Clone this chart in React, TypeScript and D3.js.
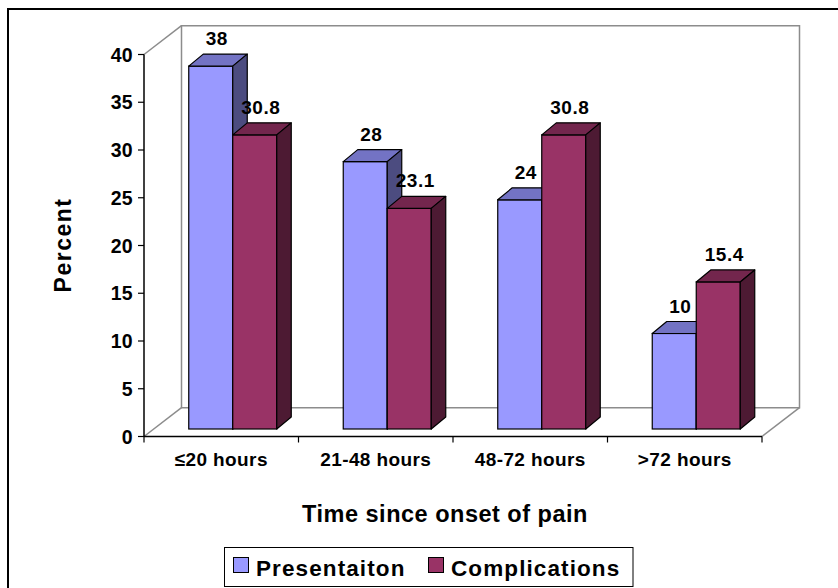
import React from "react";
import * as d3 from "d3";

// Share of patients by time since onset of pain
const categories = ["≤20 hours", "21-48 hours", "48-72 hours", ">72 hours"];
const presentation = [38, 28, 24, 10];
const complications = [30.8, 23.1, 30.8, 15.4];
const seriesNames = ["Presentaiton", "Complications"];
const yTicks = [0, 5, 10, 15, 20, 25, 30, 35, 40];

const W = 838;
const H = 588;

// front plane of the 3D box
const plotLeft = 144;
const plotRight = 762;
const yBottom = 436.5;
const yTop = 54.5;
// depth of the box (back wall offset)
const wallDx = 37.5;
const wallDy = 28.8;
// bars sit a bit behind the front plane
const barShiftX = 11.5;
const barShiftY = 7.5;
const barW = 44;
const barDx = 14.5;
const barDy = 12;

const palette = [
  { front: "#9999FF", top: "#7373C4", side: "#4C4C80" },
  { front: "#993366", top: "#73264D", side: "#4D1A33" },
];

const font = "'Liberation Sans', Arial, sans-serif";
const wallColor = "#8c8c8c";

export default function App() {
  const x = d3.scaleBand<string>().domain(categories).range([plotLeft, plotRight]).padding(0);
  const y = d3.scaleLinear().domain([0, 40]).range([yBottom, yTop]);
  const bw = x.bandwidth();
  const series = [presentation, complications];

  const bars: React.ReactNode[] = [];
  categories.forEach((c, ci) => {
    series.forEach((vals, si) => {
      const v = vals[ci];
      const bx = (x(c) as number) + bw / 2 - barW + si * barW + barShiftX;
      const top = y(v) - barShiftY;
      const base = y(0) - barShiftY;
      const col = palette[si];
      const topPts = [
        [bx, top],
        [bx + barDx, top - barDy],
        [bx + barW + barDx, top - barDy],
        [bx + barW, top],
      ];
      const sidePts = [
        [bx + barW, top],
        [bx + barW + barDx, top - barDy],
        [bx + barW + barDx, base - barDy],
        [bx + barW, base],
      ];
      bars.push(
        <g key={`${ci}-${si}`}>
          <rect x={bx} y={top} width={barW} height={base - top} fill={col.front} stroke="#000" strokeWidth={1.2} />
          <polygon points={topPts.map((p) => p.join(",")).join(" ")} fill={col.top} stroke="#000" strokeWidth={1.2} strokeLinejoin="round" />
          <polygon points={sidePts.map((p) => p.join(",")).join(" ")} fill={col.side} stroke="#000" strokeWidth={1.2} strokeLinejoin="round" />
        </g>
      );
    });
  });

  const labels: React.ReactNode[] = [];
  categories.forEach((c, ci) => {
    series.forEach((vals, si) => {
      const v = vals[ci];
      const bx = (x(c) as number) + bw / 2 - barW + si * barW + barShiftX;
      const top = y(v) - barShiftY;
      labels.push(
        <text
          key={`l-${ci}-${si}`}
          x={bx + barW / 2 + 6}
          y={top - barDy - 9}
          textAnchor="middle"
          fontFamily={font}
          fontWeight="bold"
          fontSize={19}
          letterSpacing={0.5}
        >
          {String(v)}
        </text>
      );
    });
  });

  const catTicks = [...categories.map((c) => x(c) as number), plotRight];

  return (
    <svg width={W} height={H} style={{ position: "absolute", left: 0, top: 0 }} xmlns="http://www.w3.org/2000/svg">
      <rect x={0} y={0} width={W} height={H} fill="#fff" />
      {/* outer frame */}
      <path d={`M8,${H + 5} L8,9 L${W + 5},9`} fill="none" stroke="#000" strokeWidth={2} />

      {/* back wall and floor outline */}
      <g fill="none" stroke={wallColor} strokeWidth={1.5}>
        <path d={`M${plotLeft + wallDx},${yBottom - wallDy} L${plotLeft + wallDx},${yTop - wallDy} L${plotRight + wallDx},${yTop - wallDy} L${plotRight + wallDx},${yBottom - wallDy} Z`} />
        <line x1={plotLeft} y1={yTop} x2={plotLeft + wallDx} y2={yTop - wallDy} />
        <line x1={plotLeft} y1={yBottom} x2={plotLeft + wallDx} y2={yBottom - wallDy} />
        <line x1={plotRight} y1={yBottom} x2={plotRight + wallDx} y2={yBottom - wallDy} />
      </g>

      {bars}

      {/* value axis */}
      <line x1={plotLeft} y1={yTop} x2={plotLeft} y2={yBottom} stroke="#000" strokeWidth={1.5} />
      {yTicks.map((t) => (
        <g key={`yt-${t}`}>
          <line x1={plotLeft - 6} x2={plotLeft} y1={y(t)} y2={y(t)} stroke="#000" strokeWidth={1.2} />
          <text x={133} y={y(t) + 7} textAnchor="end" fontFamily={font} fontWeight="bold" fontSize={19.5} letterSpacing={0.3}>
            {t}
          </text>
        </g>
      ))}

      {/* category axis */}
      <line x1={plotLeft} y1={yBottom} x2={plotRight} y2={yBottom} stroke="#000" strokeWidth={1.5} />
      {catTicks.map((tx, i) => (
        <line key={`xt-${i}`} x1={tx} x2={tx} y1={yBottom} y2={yBottom + 6} stroke="#000" strokeWidth={1.2} />
      ))}
      {categories.map((c) => (
        <text
          key={`xl-${c}`}
          x={(x(c) as number) + bw / 2}
          y={466}
          textAnchor="middle"
          fontFamily={font}
          fontWeight="bold"
          fontSize={19}
          letterSpacing={0.4}
        >
          {c}
        </text>
      ))}

      {labels}

      {/* axis titles */}
      <text x={445} y={522} textAnchor="middle" fontFamily={font} fontWeight="bold" fontSize={23.5} letterSpacing={0.5}>
        Time since onset of pain
      </text>
      <text
        transform="translate(71,245) rotate(-90)"
        textAnchor="middle"
        fontFamily={font}
        fontWeight="bold"
        fontSize={23}
        letterSpacing={1.5}
      >
        Percent
      </text>

      {/* legend */}
      <rect x={224.5} y={547.5} width={408.5} height={39} fill="#fff" stroke="#000" strokeWidth={1} />
      {seriesNames.map((name, i) => {
        const lx = i === 0 ? 233.5 : 428.5;
        return (
          <g key={name}>
            <rect x={lx} y={557.5} width={15} height={15} fill={palette[i].front} stroke="#000" strokeWidth={1} />
            <text x={lx + 22.5} y={576} fontFamily={font} fontWeight="bold" fontSize={22.5} letterSpacing={1.1}>
              {name}
            </text>
          </g>
        );
      })}
    </svg>
  );
}
